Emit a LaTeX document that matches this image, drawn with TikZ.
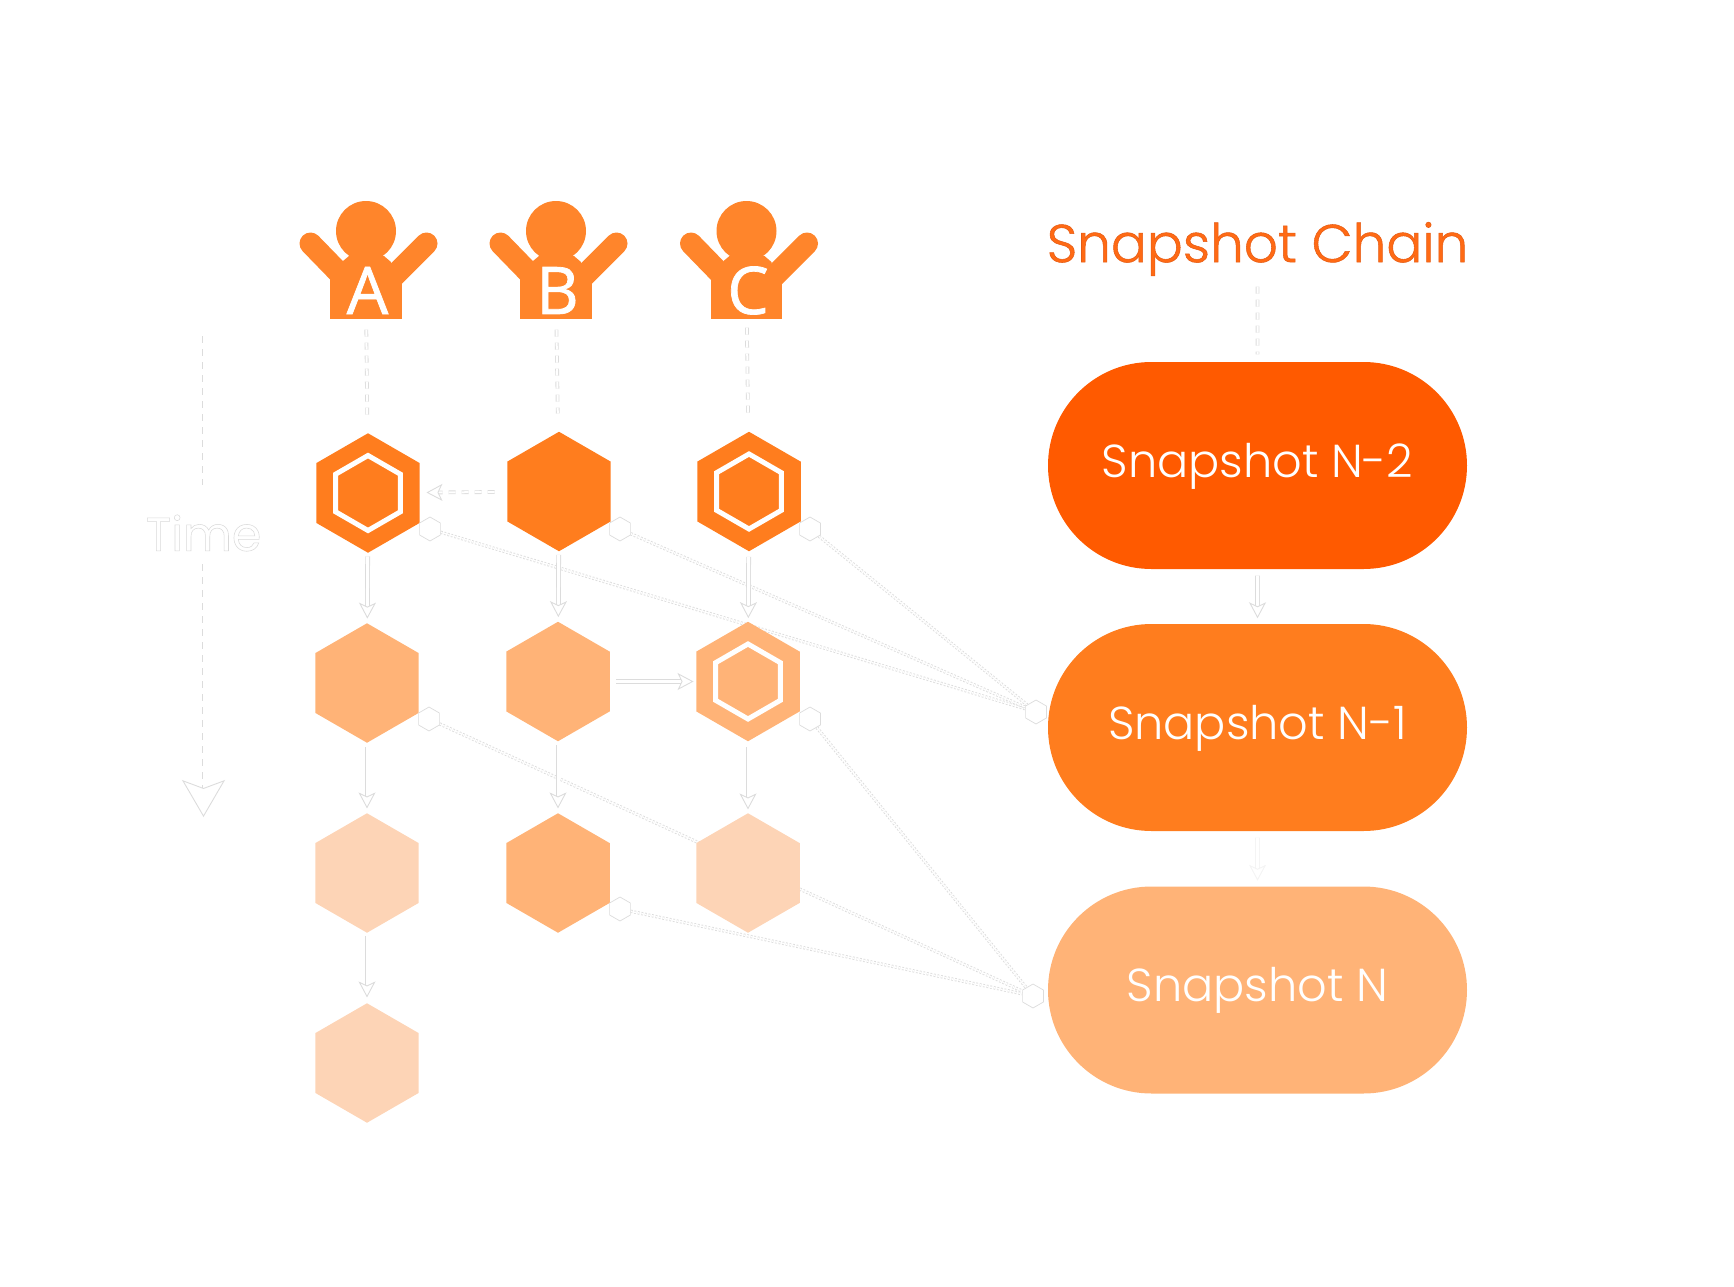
\documentclass[tikz,border=0pt]{standalone}
\usepackage{fontspec}
\setmainfont{Poppins}
\newfontfamily\poplight{Poppins Light}
\newfontfamily\letterfont{Open Sans}
\usetikzlibrary{shapes.geometric,shapes.misc,arrows.meta,backgrounds}
\definecolor{chainred}{HTML}{FF5A00}
\definecolor{strongorange}{HTML}{FF7D1E}
\definecolor{midorange}{HTML}{FFB377}
\definecolor{paleorange}{HTML}{FDD4B6}
\definecolor{personorange}{HTML}{FF852B}
\definecolor{titleorange}{HTML}{FF6A14}
\definecolor{arcgray}{HTML}{DCDCDC}
%% person with a letter on its body, (#1 = name, #2 = x, #3 = y of body bottom, #4 = letter)
\newcommand{\drawperson}[4]{
\begin{scope}[shift={(#2,#3)}]
\fill[personorange] (0,0.88) circle (0.30);
\draw[personarm] (-0.555,0.755) -- (-0.21,0.40);
\draw[personarm] (0.605,0.755) -- (0.25,0.40);
\fill[personorange] (-0.23,0.58) -- (-0.17,0.63) -- (0.18,0.63) -- (0.25,0.57) -- (0.25,0.30) -- (-0.23,0.30) -- cycle;
\node[personbody] at (0,0.21) (#1) {};
\draw (0.015,0.285) node[personletter] (#1letter) {\special{pdf:code q 2 Tr 0.2 w 1 G}#4\special{pdf:code Q}};
\end{scope}
}
\begin{document}
\begin{tikzpicture}[x=1cm,y=1cm]
\tikzstyle{personarm}=[personorange,line width=0.22cm,line cap=round]
\tikzstyle{personbody}=[rectangle,fill=personorange,inner sep=0pt,minimum width=0.716cm,minimum height=0.42cm]
\tikzstyle{personletter}=[text=white,inner sep=0pt,font=\letterfont\fontsize{18.7}{20}\selectfont]
\tikzstyle{hexa}=[regular polygon,regular polygon sides=6,shape border rotate=30,inner sep=0pt,minimum size=1.195cm]
\tikzstyle{hexring}=[hexa,draw=white,line width=0.05cm,minimum size=0.75cm]
\tikzstyle{port}=[hexa,minimum size=0.24cm,fill=white,draw=arcgray,line width=0.2pt]
\tikzstyle{snapshot}=[rounded rectangle,minimum width=4.19cm,minimum height=2.07cm,inner sep=0pt,text=white,text height=0.37cm,text depth=0.14cm,font=\poplight\fontsize{13.15}{16}\selectfont]
\tikzstyle{arc}=[double=white,draw=arcgray,line width=0.25pt,double distance=0.03cm,-{Stealth[open,fill=white,inset=0.04cm,length=0.16cm,width=0.17cm]}]
\tikzstyle{dashedarc}=[double=white,draw=arcgray,line width=0.25pt,double distance=0.02cm,dash pattern=on 0.07cm off 0.06cm]
\tikzstyle{dottedarc}=[arcgray,line width=0.25pt,double=white,double distance=0.015cm,dash pattern=on 0.018cm off 0.018cm]
\useasboundingbox (0,0) rectangle (17.34,-12.87);
%% people
\drawperson{PA}{3.66}{-3.19}{A}
\drawperson{PB}{5.56}{-3.19}{B}
\drawperson{PC}{7.465}{-3.19}{C}
%% hexagons of column A
\node[hexa,fill=strongorange] at (3.68,-4.93) (A1) {};
\node[hexring] at (3.68,-4.93) (A1ring) {};
\node[hexa,fill=midorange] at (3.67,-6.83) (A2) {};
\node[hexa,fill=paleorange] at (3.67,-8.73) (A3) {};
\node[hexa,fill=paleorange] at (3.67,-10.63) (A4) {};
%% hexagons of column B
\node[hexa,fill=strongorange] at (5.59,-4.915) (B1) {};
\node[hexa,fill=midorange] at (5.58,-6.815) (B2) {};
\node[hexa,fill=midorange] at (5.58,-8.73) (B3) {};
%% hexagons of column C
\node[hexa,fill=strongorange] at (7.49,-4.915) (C1) {};
\node[hexring] at (7.49,-4.915) (C1ring) {};
\node[hexa,fill=midorange] at (7.48,-6.815) (C2) {};
\node[hexring] at (7.48,-6.815) (C2ring) {};
\node[hexa,fill=paleorange] at (7.48,-8.73) (C3) {};
%% snapshots
\node[snapshot,fill=chainred] at (12.575,-4.655) (SnapA) {Snapshot N-2};
\node[snapshot,fill=strongorange] at (12.575,-7.275) (SnapB) {Snapshot N-1};
\node[snapshot,fill=midorange] at (12.575,-9.90) (SnapC) {Snapshot N};
\node[font=\poplight\fontsize{15.16}{18}\selectfont,text=titleorange,inner sep=0pt] at (12.575,-2.49) (ChainTitle) {\special{pdf:code q 2 Tr 0.15 w 0.9 0.36 0.08 RG}Snapshot Chain\special{pdf:code Q}};
%% time axis
\node[inner sep=0pt,font=\fontsize{13.5}{16}\selectfont] at (2.035,-5.33) (Time) {\special{pdf:code q 1 Tr 0.15 w 0.85 G}Time\special{pdf:code Q}};
\coordinate (TimeTop) at (2.035,-3.36);
\coordinate (TimeEnd) at (2.035,-8.17);
%% small ports
\node[port] at (4.30,-5.29) (PortA1) {};
\node[port] at (6.20,-5.29) (PortB1) {};
\node[port] at (8.10,-5.29) (PortC1) {};
\node[port] at (4.29,-7.19) (PortA2) {};
\node[port] at (8.10,-7.19) (PortC2) {};
\node[port] at (6.20,-9.09) (PortB3) {};
\node[port] at (10.36,-7.12) (PortSnapB) {};
\node[port] at (10.33,-9.96) (PortSnapC) {};
%% snapshot links lie behind the hexagons
\begin{pgfonlayer}{background}
\draw[dottedarc] (PortA1) -- (PortSnapB);
\draw[dottedarc] (PortB1) -- (PortSnapB);
\draw[dottedarc] (PortC1) -- (PortSnapB);
\draw[dottedarc] (PortA2) -- (PortSnapC);
\draw[dottedarc] (PortC2) -- (PortSnapC);
\draw[dottedarc] (PortB3) -- (PortSnapC);
\end{pgfonlayer}
%% dashed links
\draw[dashedarc,shorten <=0.1cm,shorten >=0.18cm] (PA) -- (A1);
\draw[dashedarc,shorten <=0.1cm,shorten >=0.18cm] (PB) -- (B1);
\draw[dashedarc,shorten <=0.08cm,shorten >=0.18cm] (PC) -- (C1);
\draw[dashedarc,shorten <=0.12cm,shorten >=0.06cm,-{Stealth[open,fill=white,inset=0.04cm,length=0.16cm,width=0.17cm]}] (B1) -- (A1);
\draw[dashedarc,shorten <=0.1cm,shorten >=0.07cm] (ChainTitle) -- (SnapA);
\draw[dashedarc,shorten >=0.29cm] (TimeTop) -- (Time);
\draw[dashedarc,shorten <=0.12cm,-{Stealth[open,fill=white,inset=0.08cm,length=0.37cm,width=0.43cm]}] (Time) -- (TimeEnd);
%% solid links
\draw[arc,shorten <=0.03cm,shorten >=0.04cm] (A1) -- (A2);
\draw[arc,shorten <=0.03cm,shorten >=0.04cm] (B1) -- (B2);
\draw[arc,shorten <=0.05cm,shorten >=0.03cm] (C1) -- (C2);
\draw[arc,shorten <=0.03cm,shorten >=0.04cm] (A2) -- (A3);
\draw[arc,shorten <=0.03cm,shorten >=0.04cm] (B2) -- (B3);
\draw[arc,shorten <=0.05cm,shorten >=0.03cm] (C2) -- (C3);
\draw[arc,shorten <=0.02cm,shorten >=0.05cm] (A3) -- (A4);
\draw[arc,shorten <=0.06cm,shorten >=0.02cm] (B2) -- (C2);
\draw[arc,shorten <=0.06cm,shorten >=0.05cm] (SnapA) -- (SnapB);
\draw[arc,draw=arcgray!30,shorten <=0.06cm,shorten >=0.05cm] (SnapB) -- (SnapC);
\end{tikzpicture}
\end{document}
